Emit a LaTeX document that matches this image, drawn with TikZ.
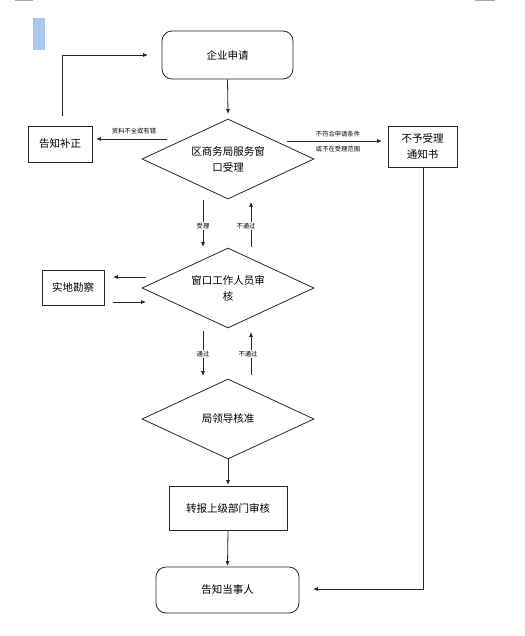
\documentclass[tikz,border=0pt]{standalone}
\usepackage{fontspec}
\newfontfamily\cjk{Noto Sans CJK SC}
\usetikzlibrary{shapes.geometric,arrows.meta,calc}
\definecolor{selblue}{RGB}{168,200,240}
\begin{document}
\begin{tikzpicture}[x=1pt,y=-1pt,
  line width=0.8pt,
  every node/.style={font=\cjk\fontsize{10.5}{16}\selectfont, inner sep=0pt, align=center},
  box/.style={draw=black!85, rectangle},
  rbox/.style={draw=black!85, rectangle, rounded corners=10pt},
  dia/.style={draw=black!85, diamond, minimum width=172, minimum height=80, shape aspect=2.15},
  lab/.style={font=\cjk\fontsize{6.3}{8}\selectfont, fill=white, inner sep=1pt},
  arr/.style={draw=black!85, -{Triangle[length=4.5pt,width=3.5pt]}}
]
\useasboundingbox (0,0) rectangle (524,636);
% page marks
\fill[black!35] (15,0) rectangle (33,1.5);
\fill[black!35] (475,0) rectangle (495,1.5);
\fill[selblue] (33,18) rectangle (45,50);

\node[rbox, minimum width=131, minimum height=48] (app) at (227.5,55) {企业申请};
\node[dia] (d1) at (228,159) {区商务局服务窗\\口受理};
\node[box, minimum width=64, minimum height=36] (bz) at (60,144) {告知补正};
\node[box, minimum width=69, minimum height=41] (bu) at (422.5,146.5) {不予受理\\通知书};
\node[dia] (d2) at (228,288) {窗口工作人员审\\核};
\node[box, minimum width=62, minimum height=35] (sd) at (73,287.5) {实地勘察};
\node[dia] (d3) at (228,419) {局领导核准};
\node[box, minimum width=118, minimum height=44] (zb) at (228,508) {转报上级部门审核};
\node[rbox, minimum width=143, minimum height=46] (gz) at (227.5,590) {告知当事人};

\draw[arr] (app.south) -- ($(d1.north)+(0,-5)$);
\draw[arr] ($(bz.north)+(2,-10)$) |- ($(app.west)+(-14,0)$);
\draw[arr] ($(d1.center)+(-61,-20)$) -- ($(bz.east)+(4,-5)$);
\draw[arr] ($(d1.center)+(59,-18)$) -- ($(bu.west)+(-6,-5.5)$);
\draw[arr] ($(bu.south)+(0.5,0)$) |- ($(gz.east)+(14,-1)$);
\draw[arr] ($(d1.south)+(-25,1)$) -- ($(d2.north)+(-25,-1)$);
\draw[arr] ($(d2.north)+(23,-1)$) -- ($(d1.south)+(23,3)$);
\draw[arr] ($(d2.west)+(4,-11)$) -- ($(sd.east)+(9,-10.5)$);
\draw[arr] ($(sd.east)+(9,14.5)$) -- ($(d2.west)+(4,14)$);
\draw[arr] ($(d2.south)+(-25,3)$) -- ($(d3.north)+(-25,-3)$);
\draw[arr] ($(d3.north)+(23,-4)$) -- ($(d2.south)+(23,4)$);
\draw[arr] (d3.south) -- ($(zb.north)+(0,-1)$);
\draw[arr] (zb.south) -- ($(gz.north)+(0,-1)$);

\node[lab] (l1) at (134,131) {资料不全或有错};
\node[lab, fill=none] (l2) at (338,134) {不符合申请条件};
\node[lab, fill=none] (l3) at (338,149) {或不在受理范围};
\node[lab] (l4) at (203,226) {受理};
\node[lab] (l5) at (246,226) {不通过};
\node[lab] (l6) at (203,354) {通过};
\node[lab] (l7) at (248,354) {不通过};
\end{tikzpicture}
\end{document}
